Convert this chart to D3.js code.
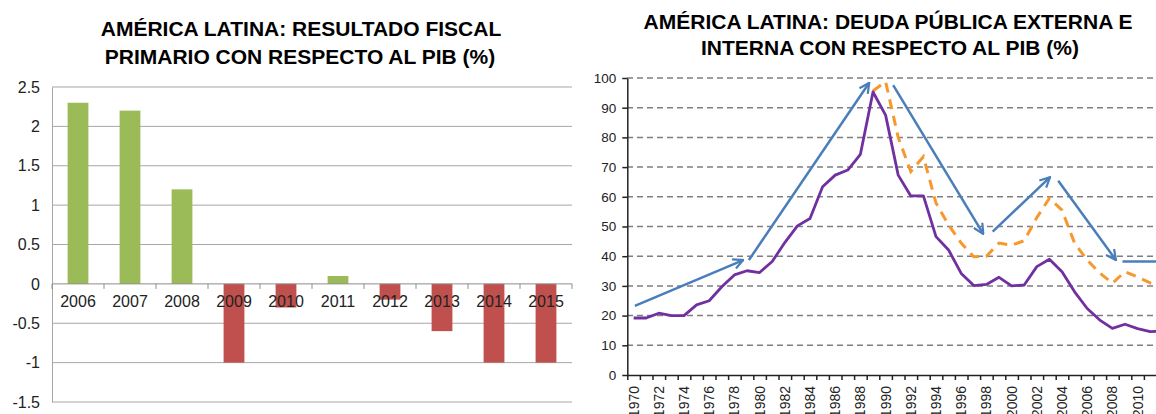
<!DOCTYPE html>
<html>
<head>
<meta charset="utf-8">
<script src="https://d3js.org/d3.v7.min.js"></script>
<style>
  body { margin: 0; background: #fff; }
  svg { display: block; font-family: "Liberation Sans", Arial, sans-serif; }
  .title { font-weight: bold; font-size: 21px; fill: #000; }
</style>
</head>
<body>
<script>
// ---- data: fiscal result (left chart)
var fiscalYears = ["2006", "2007", "2008", "2009", "2010", "2011", "2012", "2013", "2014", "2015"];
var fiscalValues = [2.3, 2.2, 1.2, -1.0, -0.3, 0.1, -0.2, -0.6, -1.0, -1.0];
var fiscalTicks = [-1.5, -1, -0.5, 0, 0.5, 1, 1.5, 2, 2.5];

// ---- data: public debt (right chart)
var debtYears = d3.range(1970, 2013);
var debtTotal = [19.2, 19.2, 20.8, 20.0, 20.0, 23.6, 25.0, 29.7, 33.7, 35.1,
                 34.5, 38.2, 44.6, 50.2, 52.7, 63.4, 67.3, 69.0, 74.3, 95.3,
                 87.5, 67.3, 60.3, 60.3, 46.6, 42.1, 34.2, 30.1, 30.5, 32.9,
                 30.0, 30.3, 36.5, 39.0, 34.8, 28.0, 22.4, 18.5, 15.7, 17.1,
                 15.6, 14.6, 14.8];
var debtOtherYears = d3.range(1989, 2013);
var debtOther = [95.6, 98.8, 80.0, 68.5, 73.5, 57.9, 50.5, 44.4, 39.8, 40.0,
                 44.4, 43.7, 45.2, 53.0, 59.5, 55.5, 44.4, 38.7, 34.3, 30.9,
                 34.8, 33.0, 31.0, 30.0];
var debtTicks = d3.range(0, 101, 10);

// trend arrows drawn over the debt chart, [year, value]
var arrowFrom = [[1970.1, 23.3], [1979.15, 38.7], [1990.6, 97.6], [1998.5, 48.3], [2003.7, 65.4]];
var arrowTo = [[1978.7, 38.7], [1988.7, 98.4], [1997.75, 47.5], [2003.05, 66.6], [2008.28, 38.7]];
var levelLine = [[2008.8, 38.2], [2013.5, 38.2]];

var svg = d3.select("body").append("svg")
    .attr("width", 1156)
    .attr("height", 414);

// =====================================================
// left chart: bars
// =====================================================
var x1 = d3.scaleBand()
    .domain(fiscalYears)
    .range([52, 572])
    .paddingInner(0.6)
    .paddingOuter(0.3);
var y1 = d3.scaleLinear().domain([-1.5, 2.5]).range([402, 87]);

var left = svg.append("g");

left.append("text").attr("class", "title")
    .attr("x", 301).attr("y", 36).attr("text-anchor", "middle")
    .text("AMÉRICA LATINA: RESULTADO FISCAL");
left.append("text").attr("class", "title")
    .attr("x", 300).attr("y", 64).attr("text-anchor", "middle")
    .text("PRIMARIO CON RESPECTO AL PIB (%)");

// gridlines
left.selectAll(".grid1")
    .data(fiscalTicks.filter(function(d) { return d !== 0; }))
  .enter().append("line")
    .attr("x1", 52).attr("x2", 572)
    .attr("y1", function(d) { return y1(d); })
    .attr("y2", function(d) { return y1(d); })
    .attr("stroke", "#a6a6a6");

// y axis
var yAxis1 = left.append("g")
    .attr("transform", "translate(52,0)")
    .call(d3.axisLeft(y1).tickValues(fiscalTicks).tickSize(0).tickPadding(12)
      .tickFormat(function(d) { return String(d); }));
yAxis1.select(".domain").attr("stroke", "#a6a6a6");
yAxis1.selectAll("text").attr("font-size", 16).attr("fill", "#222")
    .attr("font-family", "Liberation Sans, Arial, sans-serif");

// bars
left.selectAll(".bar")
    .data(fiscalValues)
  .enter().append("rect")
    .attr("x", function(d, i) { return x1(fiscalYears[i]); })
    .attr("width", x1.bandwidth())
    .attr("y", function(d) { return y1(Math.max(0, d)); })
    .attr("height", function(d) { return Math.abs(y1(d) - y1(0)); })
    .attr("fill", function(d) { return d >= 0 ? "#9bbb59" : "#c0504d"; });

// zero axis with ticks between categories
var step1 = x1.step();
var bounds1 = d3.range(fiscalYears.length + 1).map(function(i) { return 52 + i * step1; });
left.append("line")
    .attr("x1", 52).attr("x2", 572)
    .attr("y1", y1(0)).attr("y2", y1(0))
    .attr("stroke", "#8c8c8c");
left.selectAll(".tick0")
    .data(bounds1)
  .enter().append("line")
    .attr("x1", function(d) { return d; }).attr("x2", function(d) { return d; })
    .attr("y1", y1(0)).attr("y2", y1(0) + 5)
    .attr("stroke", "#8c8c8c");
left.selectAll(".cat")
    .data(fiscalYears)
  .enter().append("text")
    .attr("x", function(d) { return x1(d) + x1.bandwidth() / 2; })
    .attr("y", y1(0) + 23)
    .attr("text-anchor", "middle")
    .attr("font-size", 16)
    .attr("fill", "#222")
    .text(function(d) { return d; });

// =====================================================
// right chart: debt lines
// =====================================================
var x2 = d3.scaleLinear().domain([1969.5, 2013.5]).range([627.3, 627.3 + 44 * 12.6]);
var y2 = d3.scaleLinear().domain([0, 100]).range([375, 78]);

var right = svg.append("g");

right.append("text").attr("class", "title")
    .attr("x", 888).attr("y", 29).attr("text-anchor", "middle")
    .text("AMÉRICA LATINA: DEUDA PÚBLICA EXTERNA E");
right.append("text").attr("class", "title")
    .attr("x", 890).attr("y", 55).attr("text-anchor", "middle")
    .text("INTERNA CON RESPECTO AL PIB (%)");

// dashed gridlines
right.selectAll(".grid2")
    .data(debtTicks.filter(function(d) { return d > 0; }))
  .enter().append("line")
    .attr("x1", 627).attr("x2", 1156)
    .attr("y1", function(d) { return y2(d); })
    .attr("y2", function(d) { return y2(d); })
    .attr("stroke", "#7f7f7f")
    .attr("stroke-width", 1.5)
    .attr("stroke-dasharray", "6,4");

// y axis
var yAxis2 = right.append("g")
    .attr("transform", "translate(627.3,0)")
    .call(d3.axisLeft(y2).tickValues(debtTicks).tickSize(5).tickSizeOuter(0).tickPadding(6));
yAxis2.selectAll("path, line").attr("stroke", "#222").attr("stroke-width", 1.5);
yAxis2.selectAll("text").attr("font-size", 13.5).attr("fill", "#222")
    .attr("font-family", "Liberation Sans, Arial, sans-serif");

// x axis: ticks at year boundaries, labels every two years
var bounds2 = d3.range(1969.5, 2014, 1);
var xAxis2 = right.append("g")
    .attr("transform", "translate(0,375)")
    .call(d3.axisBottom(x2).tickValues(bounds2).tickSize(5).tickSizeOuter(0).tickFormat(""));
xAxis2.selectAll("path, line").attr("stroke", "#222").attr("stroke-width", 1.5);

right.selectAll(".yearLabel")
    .data(debtYears.filter(function(d) { return d % 2 === 0; }))
  .enter().append("text")
    .attr("transform", function(d) {
      return "translate(" + x2(d) + ",386) rotate(-90)";
    })
    .attr("text-anchor", "end")
    .attr("dy", "0.35em")
    .attr("font-size", 14)
    .attr("fill", "#222")
    .text(function(d) { return d; });

var line2 = d3.line()
    .x(function(d) { return x2(d[0]); })
    .y(function(d) { return y2(d[1]); });

right.append("clipPath").attr("id", "plotclip")
  .append("rect").attr("x", 627).attr("y", 60).attr("width", 529).attr("height", 316);

// orange dashed series
right.append("path")
    .datum(debtOtherYears.map(function(d, i) { return [d, debtOther[i]]; }))
    .attr("clip-path", "url(#plotclip)")
    .attr("fill", "none")
    .attr("stroke", "#f7982e")
    .attr("stroke-width", 3)
    .attr("stroke-dasharray", "10,7")
    .attr("d", line2);

// purple solid series
right.append("path")
    .datum(debtYears.map(function(d, i) { return [d, debtTotal[i]]; }))
    .attr("clip-path", "url(#plotclip)")
    .attr("fill", "none")
    .attr("stroke", "#7030a0")
    .attr("stroke-width", 2.8)
    .attr("stroke-linejoin", "round")
    .attr("d", line2);

// arrows
var defs = svg.append("defs");
defs.append("marker")
    .attr("id", "chev")
    .attr("viewBox", "0 0 12 12")
    .attr("refX", 11).attr("refY", 6)
    .attr("markerWidth", 12).attr("markerHeight", 12)
    .attr("markerUnits", "userSpaceOnUse")
    .attr("orient", "auto")
  .append("path")
    .attr("d", "M1,1 L11,6 L1,11")
    .attr("fill", "none")
    .attr("stroke", "#4a7ebb")
    .attr("stroke-width", 2.2);

right.selectAll(".arrow")
    .data(arrowFrom)
  .enter().append("line")
    .attr("x1", function(d) { return x2(d[0]); })
    .attr("y1", function(d) { return y2(d[1]); })
    .attr("x2", function(d, i) { return x2(arrowTo[i][0]); })
    .attr("y2", function(d, i) { return y2(arrowTo[i][1]); })
    .attr("stroke", "#4a7ebb")
    .attr("stroke-width", 2.5)
    .attr("marker-end", "url(#chev)");

right.append("path")
    .datum(levelLine)
    .attr("fill", "none")
    .attr("stroke", "#4a7ebb")
    .attr("stroke-width", 2.5)
    .attr("d", line2);
</script>
</body>
</html>
